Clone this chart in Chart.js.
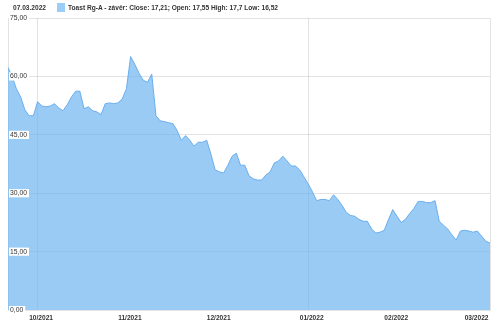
<!DOCTYPE html>
<html>
<head>
<meta charset="utf-8">
<script src="https://cdn.jsdelivr.net/npm/chart.js@4.4.1/dist/chart.umd.min.js"></script>
<style>
  html, body { margin: 0; padding: 0; background: #fff; }
  #wrap { position: relative; width: 500px; height: 332px; font-family: Arial, "Liberation Sans", sans-serif; }
  #head { position: absolute; left: 0; top: 0; height: 15px; width: 500px; font-size: 6.6px; font-weight: bold; color: #333; }
  #head .date { position: absolute; left: 13px; top: 4px; }
  #head .box { position: absolute; left: 57px; top: 3px; width: 8px; height: 9px; background: #9acdf7; }
  #head .lbl { position: absolute; left: 68px; top: 4px; white-space: nowrap; }
  #c { position: absolute; left: 0; top: 0; }
</style>
</head>
<body>
<div id="wrap">
  <canvas id="c" width="500" height="332"></canvas>
  <div id="head">
    <span class="date">07.03.2022</span>
    <span class="box"></span>
    <span class="lbl">Toast Rg-A - závěr: Close: 17,21; Open: 17,55 High: 17,7 Low: 16,52</span>
  </div>
</div>
<script>
// trading days per month (day numbers)
var sep21 = [22, 23, 24, 27, 28, 29, 30];
var oct21 = [1, 4, 5, 6, 7, 8, 11, 12, 13, 14, 15, 18, 19, 20, 21, 22, 25, 26, 27, 28, 29];
var nov21 = [1, 2, 3, 4, 5, 8, 9, 10, 11, 12, 15, 16, 17, 18, 19, 22, 23, 24, 26, 29, 30];
var dec21 = [1, 2, 3, 6, 7, 8, 9, 10, 13, 14, 15, 16, 17, 20, 21, 22, 23, 27, 28, 29, 30, 31];
var jan22 = [3, 4, 5, 6, 7, 10, 11, 12, 13, 14, 18, 19, 20, 21, 24, 25, 26, 27, 28, 31];
var feb22 = [1, 2, 3, 4, 7, 8, 9, 10, 11, 14, 15, 16, 17, 18, 22, 23, 24, 25, 28];
var mar22 = [1, 2, 3, 4, 7];

// closing prices
var closeValues = [
  62.3, 59.9, 56.8, 54.7, 51.4, 49.9, 49.9,
  53.5, 52.4, 52.2, 52.4, 53.0, 51.9, 51.2, 52.7, 54.7, 56.2, 56.2, 51.7, 52.2, 51.2, 50.9, 50.2, 53.0, 53.2, 53.0, 53.2, 54.2,
  56.8, 65.1, 63.1, 60.8, 59.0, 58.5, 60.6, 49.9, 48.6, 48.4, 48.1, 47.9, 46.1, 43.6, 44.8, 43.6, 42.1, 43.1, 43.1, 43.6, 40.0,
  36.0, 35.5, 35.2, 37.2, 39.5, 40.3, 37.2, 37.2, 34.5, 33.7, 33.4, 33.4, 34.7, 35.5, 37.8, 38.3, 39.5, 38.3, 37.0, 37.0, 36.0, 34.2,
  32.4, 30.4, 28.1, 28.4, 28.4, 28.1, 29.6, 28.4, 26.9, 25.1, 24.3, 24.1, 23.3, 22.8, 22.8, 20.8, 19.8, 20.0, 20.5, 23.3,
  25.8, 24.1, 22.5, 23.3, 24.8, 26.1, 27.9, 27.9, 27.6, 27.6, 28.1, 22.8, 21.8, 20.8, 19.3, 18.0, 20.3, 20.5, 20.3,
  20.0, 20.3, 19.0, 17.7, 17.21
];

var yTicks = [0, 15, 30, 45, 60, 75];
var gridMonths = ['10/2021', '01/2022'];

var months = [[sep21, '09.2021'], [oct21, '10.2021'], [nov21, '11.2021'], [dec21, '12.2021'],
              [jan22, '01.2022'], [feb22, '02.2022'], [mar22, '03.2022']];
var dates = [];
var monthStarts = [];
months.forEach(function (m, k) {
  if (k > 0) monthStarts.push(dates.length);
  m[0].forEach(function (d) {
    dates.push((d < 10 ? '0' + d : '' + d) + '.' + m[1]);
  });
});

function monthLabel(d) {
  return d.slice(3, 5) + '/' + d.slice(6);
}

var gridColor = 'rgba(0,0,0,0.11)';

new Chart(document.getElementById('c').getContext('2d'), {
  type: 'line',
  data: {
    labels: dates,
    datasets: [{
      label: 'Toast Rg-A',
      data: closeValues,
      fill: 'origin',
      backgroundColor: 'rgba(100,175,240,0.65)',
      borderColor: 'rgba(95,168,236,0.9)',
      borderWidth: 1,
      pointRadius: 0,
      tension: 0
    }]
  },
  options: {
    responsive: false,
    animation: false,
    layout: { padding: { left: 4, right: 10, top: 18, bottom: 6 } },
    plugins: {
      legend: { display: false },
      tooltip: { enabled: false }
    },
    scales: {
      x: {
        offset: false,
        afterBuildTicks: function (scale) {
          scale.ticks = monthStarts.map(function (v) { return { value: v }; });
        },
        ticks: {
          autoSkip: false,
          maxRotation: 0,
          padding: 4,
          labelOffset: 3.5,
          color: '#333',
          font: { family: 'Arial, "Liberation Sans", sans-serif', size: 6.6, weight: 'bold' },
          callback: function (value) { return monthLabel(this.getLabelForValue(value)); }
        },
        grid: {
          drawTicks: false,
          color: function (ctx) {
            if (!ctx.tick) return 'transparent';
            return gridMonths.indexOf(monthLabel(dates[ctx.tick.value])) >= 0 ? gridColor : 'transparent';
          }
        },
        border: { display: false }
      },
      y: {
        min: 0,
        max: 75,
        afterBuildTicks: function (scale) {
          scale.ticks = yTicks.map(function (v) { return { value: v }; });
        },
        ticks: {
          z: 1,
          mirror: true,
          padding: 2,
          color: '#333',
          showLabelBackdrop: true,
          backdropColor: '#fff',
          backdropPadding: { top: 0, bottom: 0, left: 1, right: 2 },
          font: { family: 'Arial, "Liberation Sans", sans-serif', size: 6.8 },
          callback: function (v) { return v.toFixed(2).replace('.', ','); }
        },
        grid: { drawTicks: false, color: gridColor },
        border: { display: true, color: 'rgba(0,0,0,0.11)' }
      },
      yRight: {
        position: 'right',
        min: 0,
        max: 75,
        ticks: { display: false },
        grid: { display: false, drawTicks: false },
        border: { display: true, color: 'rgba(0,0,0,0.11)' }
      }
    }
  }
});
</script>
</body>
</html>
